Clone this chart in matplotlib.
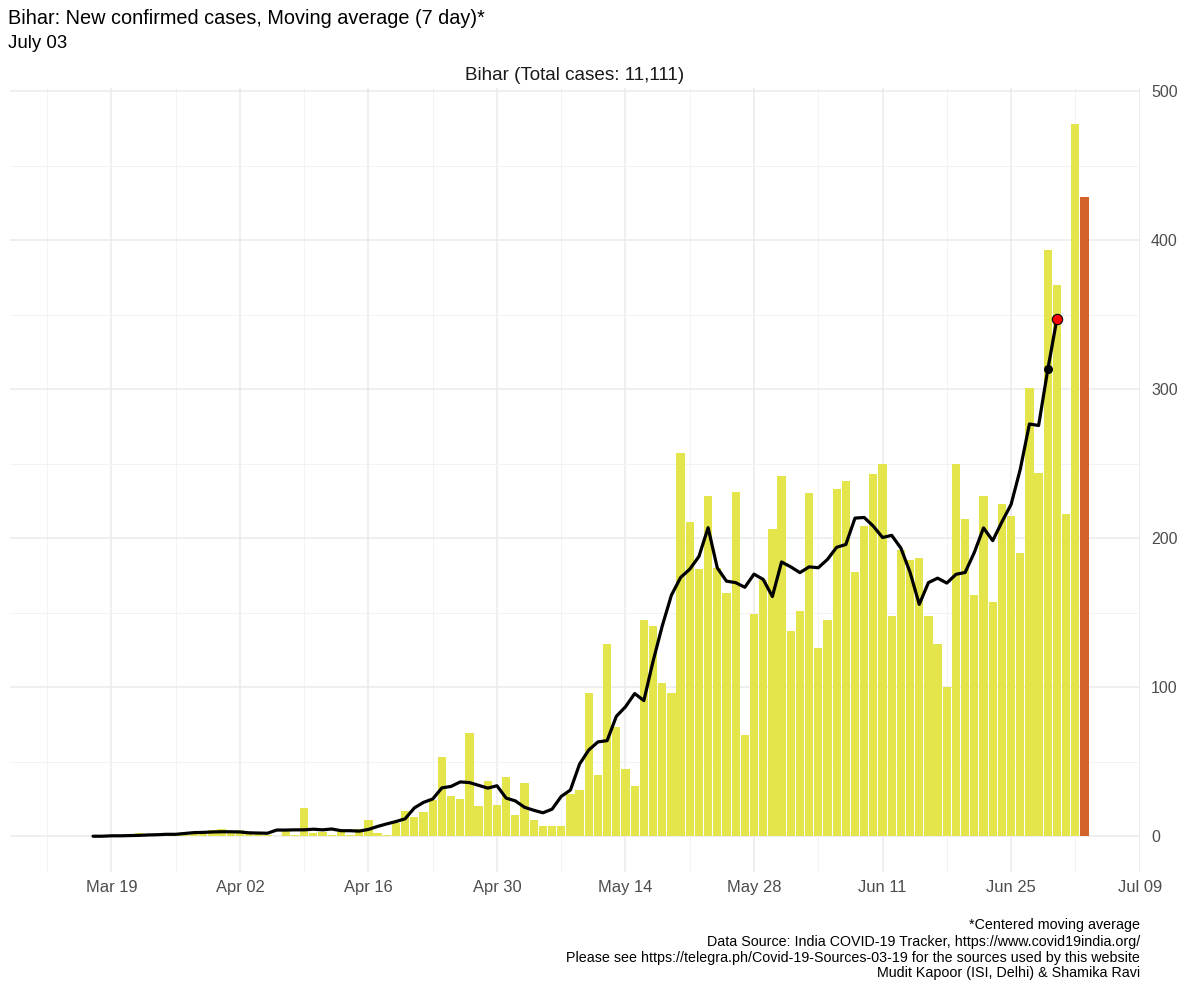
import matplotlib
matplotlib.use("Agg")
import matplotlib.pyplot as plt
import numpy as np
import pandas as pd

# ---------------- data ----------------
start_date = "2020-03-14"
new_cases = [
    0, 0, 0, 0, 0, 0, 0, 0,          # Mar 14 - Mar 21
    2, 0, 1, 1, 2, 1, 2, 2, 4, 5,    # Mar 22 - Mar 31
    2, 4, 2, 2, 1, 0, 4, 1, 19, 2,   # Apr 01 - Apr 10
    3, 1, 3, 1, 5, 11, 2, 1, 9, 17,  # Apr 11 - Apr 20
    13, 16, 24, 53, 27, 25, 69, 20, 37, 21,  # Apr 21 - Apr 30
    40, 14, 36, 11, 7, 7, 7, 28, 31, 96,     # May 01 - May 10
    41, 129, 73, 45, 34, 145, 141, 103, 96, 257,  # May 11 - May 20
    211, 179, 228, 180, 163, 231, 68, 149, 172, 206,  # May 21 - May 30
    242, 138, 151, 230, 126, 145, 233, 238, 177, 208,  # May 31 - Jun 09
    243, 250, 148, 192, 185, 187, 148, 129, 100, 250,  # Jun 10 - Jun 19
    213, 162, 228, 157, 223, 215, 190, 301, 244, 393,  # Jun 20 - Jun 29
    370, 216, 478, 429,                                # Jun 30 - Jul 03
]
x_tick_dates = ["2020-03-19", "2020-04-02", "2020-04-16", "2020-04-30", "2020-05-14",
                "2020-05-28", "2020-06-11", "2020-06-25", "2020-07-09"]
x_tick_labels = ["Mar 19", "Apr 02", "Apr 16", "Apr 30", "May 14",
                 "May 28", "Jun 11", "Jun 25", "Jul 09"]
y_ticks = [0, 100, 200, 300, 400, 500]

title = "Bihar: New confirmed cases, Moving average (7 day)*"
subtitle = "July 03"
strip_label = "Bihar (Total cases: 11,111)"
caption = ["*Centered moving average",
           "Data Source: India COVID-19 Tracker, https://www.covid19india.org/",
           "Please see https://telegra.ph/Covid-19-Sources-03-19 for the sources used by this website",
           "Mudit Kapoor (ISI, Delhi) & Shamika Ravi"]

# ---------------- derived ----------------
dates = pd.date_range(start_date, periods=len(new_cases), freq="D")
s = pd.Series(new_cases, index=dates, dtype=float)
ma = s.rolling(7, center=True).mean()
ma_valid = ma.dropna()

plt.rcParams['font.family'] = ['Liberation Sans', 'DejaVu Sans']

W, H = 1200, 988
fig = plt.figure(figsize=(W / 100, H / 100), dpi=100)
L, R, T, B = 10, 1140, 88, 872
ax = fig.add_axes([L / W, 1 - B / H, (R - L) / W, (B - T) / H])

bar_yellow = "#E4E44B"
bar_orange = "#D2612A"
colors = [bar_yellow] * (len(new_cases) - 1) + [bar_orange]
ax.bar(dates, new_cases, width=0.9, color=colors, zorder=2, linewidth=0)

ax.plot(ma_valid.index, ma_valid.values, color="black", lw=2.3, zorder=3,
        solid_capstyle="round", solid_joinstyle="round")
ax.scatter([ma_valid.index[-2]], [ma_valid.values[-2]], s=30, color="black", zorder=4)
ax.scatter([ma_valid.index[-1]], [ma_valid.values[-1]], s=55, color="red",
           edgecolors="black", linewidths=0.8, zorder=5)

major_dates = pd.to_datetime(x_tick_dates)
minor_dates = pd.date_range("2020-03-12", periods=9, freq="14D")
ax.set_xticks(major_dates)
ax.set_xticklabels(x_tick_labels)
ax.set_xticks(minor_dates, minor=True)
ax.set_yticks(y_ticks)
ax.set_yticks([50, 150, 250, 350, 450], minor=True)

# limits (ggplot-like expansion), set after ticks
x0 = dates[0] - pd.Timedelta(hours=10.8)
x1 = dates[-1] + pd.Timedelta(hours=10.8)
span = (x1 - x0)
ax.set_xlim(x0 - span * 0.05, x1 + span * 0.05)
ax.set_ylim(-24, 502)

ax.yaxis.tick_right()
ax.grid(True, which="major", color="#EBEBEB", lw=1.1, zorder=0)
ax.grid(True, which="minor", color="#F3F3F3", lw=0.7, zorder=0)
for sp in ax.spines.values():
    sp.set_visible(False)
ax.tick_params(which="both", length=0)
ax.tick_params(axis="x", labelsize=11.9, colors="#4D4D4D", pad=6)
ax.tick_params(axis="y", labelsize=11.5, colors="#4D4D4D", pad=8)
ax.set_axisbelow(True)

# texts
fig.text(8 / W, 1 - 18 / H, title, fontsize=14.3, va="center", ha="left", color="black")
fig.text(8 / W, 1 - 43 / H, subtitle, fontsize=13.4, va="center", ha="left", color="black")
fig.text((L + R) / 2 / W, 1 - 75 / H, strip_label, fontsize=13.6, va="center",
         ha="center", color="#1A1A1A")
cy = [925, 942, 958, 973]
for line, y in zip(caption, cy):
    fig.text(R / W, 1 - y / H, line, fontsize=10.3, ha="right", va="center", color="black")

fig.savefig("out.png", dpi=100, facecolor="white")
